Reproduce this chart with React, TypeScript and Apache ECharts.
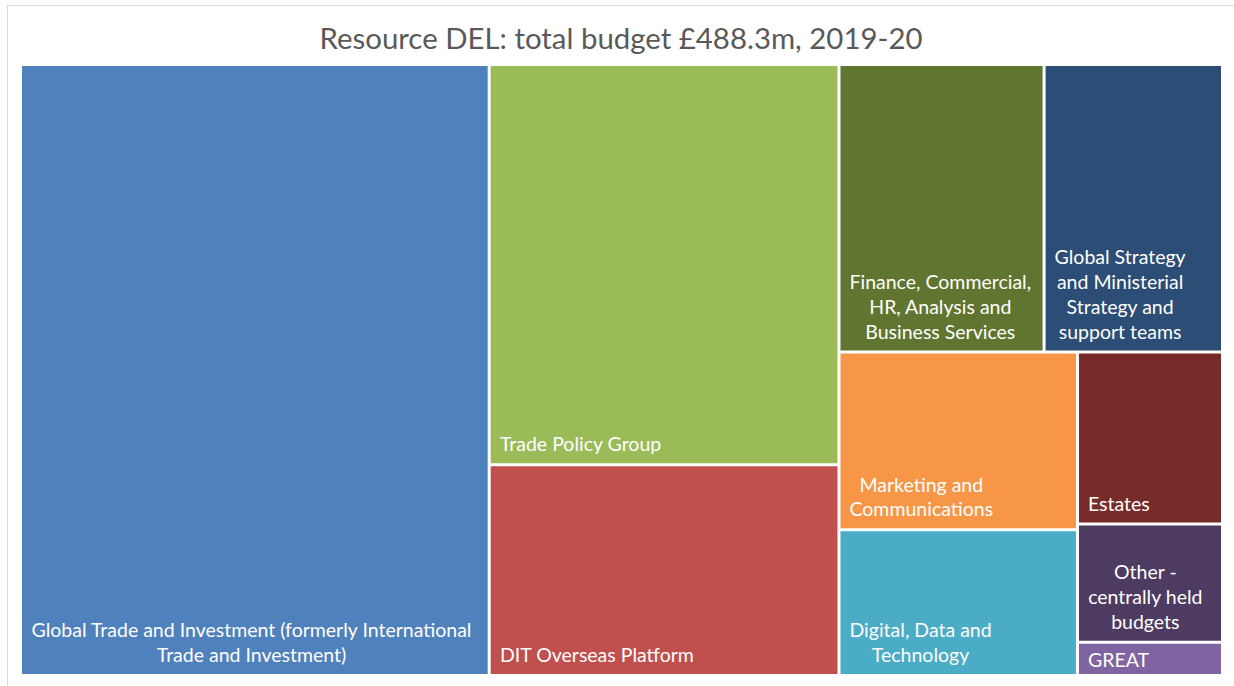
import React, { useEffect, useRef } from 'react';
import * as echarts from 'echarts';

const TITLE = 'Resource DEL: total budget £488.3m, 2019-20';

const categories = [
  'Global Trade and Investment (formerly International Trade and Investment)',
  'Trade Policy Group',
  'DIT Overseas Platform',
  'Finance, Commercial, HR, Analysis and Business Services',
  'Global Strategy and Ministerial Strategy and support teams',
  'Marketing and Communications',
  'Digital, Data and Technology',
  'Estates',
  'Other - centrally held budgets',
  'GREAT',
];

// £m, 2019-20
const budgetsGBPm = [190.4, 93.1, 49.0, 39.2, 34.1, 28.2, 23.1, 16.6, 11.4, 3.2];

const labelLines = [
  ['Global Trade and Investment (formerly International', 'Trade and Investment)'],
  ['Trade Policy Group'],
  ['DIT Overseas Platform'],
  ['Finance, Commercial,', 'HR, Analysis and', 'Business Services'],
  ['Global Strategy', 'and Ministerial', 'Strategy and', 'support teams'],
  ['Marketing and', 'Communications'],
  ['Digital, Data and', 'Technology'],
  ['Estates'],
  ['Other -', 'centrally held', 'budgets'],
  ['GREAT'],
];

const colors = [
  '#4F81BD', '#9BBB59', '#C0504D', '#5F7530', '#2C4D75',
  '#F79646', '#4BACC6', '#772C2A', '#4D3B62', '#8064A2',
];

const LABEL_FONT = 'Lato';
const LABEL_SIZE = 19.5;
const LABEL_LINE = 24.8;
const LABEL_PAD = 9;

export default function App() {
  const ref = useRef<HTMLDivElement>(null);

  useEffect(() => {
    if (!ref.current) return;
    const chart = echarts.init(ref.current, undefined, { renderer: 'svg' });

    const ctx = document.createElement('canvas').getContext('2d')!;
    ctx.font = `${LABEL_SIZE}px ${LABEL_FONT}`;
    const widest = (lines: string[]) => Math.max(...lines.map((l) => ctx.measureText(l).width));

    const data = categories.map((name, i) => ({
      name,
      value: budgetsGBPm[i],
      itemStyle: { color: colors[i] },
      label: {
        offset: [LABEL_PAD + widest(labelLines[i]) / 2, name === 'GREAT' ? -2 : -7],
      },
    }));

    chart.setOption({
      animation: false,
      title: {
        text: TITLE,
        left: 621,
        top: 23,
        padding: 0,
        textAlign: 'center',
        textStyle: {
          fontFamily: LABEL_FONT,
          fontSize: 29.4,
          fontWeight: 'normal',
          color: '#595959',
        },
      },
      graphic: [
        {
          type: 'rect',
          silent: true,
          z: -10,
          shape: { x: 7.5, y: 5.5, width: 1400, height: 1000 },
          style: { fill: 'none', stroke: '#D9D9D9', lineWidth: 1 },
        },
      ],
      series: [
        {
          type: 'treemap',
          left: 22,
          top: 66,
          width: 1199,
          height: 608,
          roam: false,
          nodeClick: false,
          silent: true,
          breadcrumb: { show: false },
          itemStyle: { gapWidth: 3, borderWidth: 0, borderColor: '#fff' },
          label: {
            show: true,
            position: 'insideBottomLeft',
            align: 'center',
            distance: 0,
            padding: 0,
            color: '#fff',
            fontFamily: LABEL_FONT,
            fontSize: LABEL_SIZE,
            lineHeight: LABEL_LINE,
            overflow: 'none',
            formatter: (p: any) => labelLines[categories.indexOf(p.name)].join('\n'),
          },
          data,
        },
      ],
    });

    return () => chart.dispose();
  }, []);

  return (
    <div
      ref={ref}
      style={{ position: 'absolute', left: 0, top: 0, width: 1234, height: 686, background: '#fff' }}
    />
  );
}
